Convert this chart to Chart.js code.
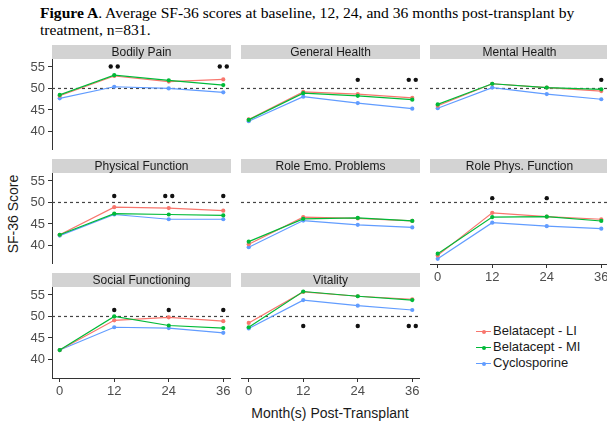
<!DOCTYPE html>
<html>
<head>
<meta charset="utf-8">
<script src="https://cdn.jsdelivr.net/npm/chart.js@4"></script>
<style>
  html, body { margin: 0; padding: 0; background: #fff; overflow: hidden; }
  body { width: 607px; height: 423px; position: relative; font-family: 'Liberation Sans', Arial, sans-serif; }
  canvas { position: absolute; }
  #title { position: absolute; left: 40px; top: 4px; font: 15.6px 'Liberation Serif', 'Times New Roman', serif; line-height: 17px; color: #000; white-space: nowrap; }
  #ytitle { position: absolute; left: 13px; top: 214px; transform: translate(-50%, -50%) rotate(-90deg); font-size: 14px; color: #1a1a1a; white-space: nowrap; }
  #xtitle { position: absolute; left: 330px; top: 413px; transform: translate(-50%, -50%); font-size: 14px; color: #1a1a1a; white-space: nowrap; }
  #legend { position: absolute; left: 476px; top: 323px; font-size: 13px; color: #1a1a1a; }
  .item { position: relative; height: 16px; line-height: 16px; padding-left: 17px; white-space: nowrap; }
  .key { position: absolute; left: 0; top: 8px; width: 15px; height: 1.2px; }
  .key i { position: absolute; left: 5.5px; top: -1.4px; width: 4px; height: 4px; border-radius: 50%; }
</style>
</head>
<body>
<div id="title"><b>Figure A</b>. Average SF-36 scores at baseline, 12, 24, and 36 months post-transplant by<br>treatment, n=831.</div>
<div id="ytitle">SF-36 Score</div>
<div id="xtitle">Month(s) Post-Transplant</div>
<div id="legend"></div>
<script>
// Visit months on the x axis
const months = [0, 12, 24, 36];
const yTicks = [40, 45, 50, 55];

// SF-36 domains, one facet each
const domains = ['Bodily Pain', 'General Health', 'Mental Health',
                 'Physical Function', 'Role Emo. Problems', 'Role Phys. Function',
                 'Social Functioning', 'Vitality'];

// Mean scores per domain at 0, 12, 24, 36 months
const belataceptLI = [
  [48.3, 52.9, 51.6, 52.1],
  [42.8, 49.2, 48.7, 47.8],
  [46.0, 51.1, 50.2, 49.4],
  [42.5, 48.9, 48.7, 48.1],
  [40.3, 46.6, 46.3, 45.7],
  [37.7, 47.6, 46.7, 46.1],
  [42.2, 49.1, 49.8, 48.9],
  [48.5, 55.7, 54.7, 54.0]
];
const belataceptMI = [
  [48.5, 53.1, 51.9, 50.8],
  [42.7, 48.9, 48.3, 47.4],
  [46.3, 51.1, 50.2, 49.8],
  [42.5, 47.4, 47.2, 47.0],
  [40.9, 46.2, 46.4, 45.7],
  [38.1, 46.6, 46.7, 45.7],
  [42.2, 50.0, 47.9, 47.3],
  [47.5, 55.8, 54.7, 53.8]
];
const cyclosporine = [
  [47.7, 50.4, 50.0, 49.1],
  [42.4, 48.1, 46.6, 45.3],
  [45.4, 50.2, 48.7, 47.5],
  [42.3, 47.2, 46.1, 46.1],
  [39.6, 45.8, 44.8, 44.2],
  [36.9, 45.3, 44.5, 43.9],
  [42.2, 47.5, 47.3, 46.2],
  [47.2, 53.8, 52.5, 51.5]
];

// Significance markers: number of asterisks at each month, and the score level they sit at
const starCounts = [
  [0, 2, 0, 2],
  [0, 0, 1, 2],
  [0, 0, 0, 1],
  [0, 1, 2, 1],
  [0, 0, 0, 0],
  [0, 1, 1, 0],
  [0, 1, 1, 1],
  [0, 1, 1, 2]
];
const starLevels = [55.1, 52.0, 52.0, 51.5, 0, 51.0, 51.5, 47.8];

const referenceScore = 50;

const seriesNames = ['Belatacept - LI', 'Belatacept - MI', 'Cyclosporine'];
const seriesColors = ['#F8766D', '#00BA38', '#619CFF'];
const seriesData = [belataceptLI, belataceptMI, cyclosporine];
const seriesOrder = [1, 0, 2];

// Facet grid geometry
const colLeft = [52, 241, 430];
const rowTop = [45, 159, 273];
const panelW = 179, panelH = 91, stripH = 14, yAxisW = 52, xAxisH = 26;

// Keep every facet's plotting area the same size: no extra room for edge tick labels
function noEdgePadding(s) {
  s.paddingTop = 0; s.paddingBottom = 0; s.paddingLeft = 0; s.paddingRight = 0;
}

const facetPlugin = {
  id: 'facet',
  beforeDraw(chart, args, opts) {
    const { ctx, chartArea: ca } = chart;
    ctx.save();
    ctx.fillStyle = '#d3d3d3';
    ctx.fillRect(ca.left, ca.top - stripH, ca.right - ca.left, stripH);
    ctx.fillStyle = '#1a1a1a';
    ctx.font = '12px "Liberation Sans", Arial, sans-serif';
    ctx.textAlign = 'center';
    ctx.textBaseline = 'middle';
    ctx.fillText(opts.label, (ca.left + ca.right) / 2, ca.top - stripH / 2 + 0.5);
    ctx.restore();
  },
  beforeDatasetsDraw(chart) {
    const { ctx, chartArea: ca, scales } = chart;
    const y = scales.y.getPixelForValue(referenceScore);
    ctx.save();
    ctx.strokeStyle = '#444';
    ctx.lineWidth = 1.2;
    ctx.setLineDash([3, 3]);
    ctx.beginPath();
    ctx.moveTo(ca.left, y);
    ctx.lineTo(ca.right, y);
    ctx.stroke();
    ctx.restore();
  },
  afterDatasetsDraw(chart, args, opts) {
    const { ctx, scales } = chart;
    const counts = starCounts[opts.index];
    const y = scales.y.getPixelForValue(starLevels[opts.index]);
    ctx.save();
    ctx.fillStyle = '#111';
    counts.forEach((c, i) => {
      const x = scales.x.getPixelForValue(months[i]);
      for (let k = 0; k < c; k++) {
        ctx.beginPath();
        ctx.arc(x + (k - (c - 1) / 2) * 7, y, 2.2, 0, Math.PI * 2);
        ctx.fill();
      }
    });
    ctx.restore();
  }
};

domains.forEach((name, idx) => {
  const col = idx % 3, row = Math.floor(idx / 3);
  const showY = col === 0;
  const showX = row === 2 || idx === 5;
  const canvas = document.createElement('canvas');
  const left = colLeft[col] - (showY ? yAxisW : 0);
  const w = panelW + (showY ? yAxisW : 0);
  const h = stripH + panelH + (showX ? xAxisH : 0);
  canvas.style.left = left + 'px';
  canvas.style.top = rowTop[row] + 'px';
  canvas.style.width = w + 'px';
  canvas.style.height = h + 'px';
  canvas.width = w; canvas.height = h;
  document.body.appendChild(canvas);

  const tickFont = { family: '"Liberation Sans", Arial, sans-serif', size: 13 };

  new Chart(canvas, {
    type: 'line',
    data: {
      datasets: seriesNames.map((s, k) => ({
        label: s,
        data: months.map((m, i) => ({ x: m, y: seriesData[k][idx][i] })),
        borderColor: seriesColors[k],
        backgroundColor: seriesColors[k],
        pointBackgroundColor: seriesColors[k],
        borderWidth: 1.2,
        pointRadius: 2.1,
        pointBorderWidth: 0,
        tension: 0,
        order: seriesOrder[k]
      }))
    },
    options: {
      responsive: false,
      animation: false,
      devicePixelRatio: 1,
      layout: { autoPadding: false, padding: { top: stripH, left: 0, right: 0, bottom: 0 } },
      plugins: {
        legend: { display: false },
        tooltip: { enabled: false },
        facet: { label: name, index: idx }
      },
      scales: {
        x: {
          type: 'linear',
          min: -1.7, max: 37.7,
          display: showX,
          afterBuildTicks: s => { s.ticks = months.map(v => ({ value: v })); },
          afterFit: s => { s.height = showX ? xAxisH : 0; noEdgePadding(s); },
          ticks: { color: '#4d4d4d', font: tickFont, padding: 2, maxRotation: 0, autoSkip: false },
          grid: { display: true, drawOnChartArea: false, drawTicks: true, tickLength: 4, color: '#333' },
          border: { display: true, color: '#333', width: 1 }
        },
        y: {
          type: 'linear',
          min: 35.7, max: 56.85,
          display: showY,
          afterBuildTicks: s => { s.ticks = yTicks.map(v => ({ value: v })); },
          afterFit: s => { s.width = showY ? yAxisW : 0; noEdgePadding(s); },
          ticks: { color: '#4d4d4d', font: tickFont, padding: 3 },
          grid: { display: true, drawOnChartArea: false, drawTicks: true, tickLength: 4, color: '#333' },
          border: { display: true, color: '#333', width: 1 }
        }
      }
    },
    plugins: [facetPlugin]
  });
});

// Legend for the treatment groups
const legend = document.getElementById('legend');
seriesNames.forEach((s, k) => {
  const item = document.createElement('div');
  item.className = 'item';
  item.innerHTML = '<span class="key" style="background:' + seriesColors[k] + '"><i style="background:' + seriesColors[k] + '"></i></span>' + s;
  legend.appendChild(item);
});
</script>
</body>
</html>
